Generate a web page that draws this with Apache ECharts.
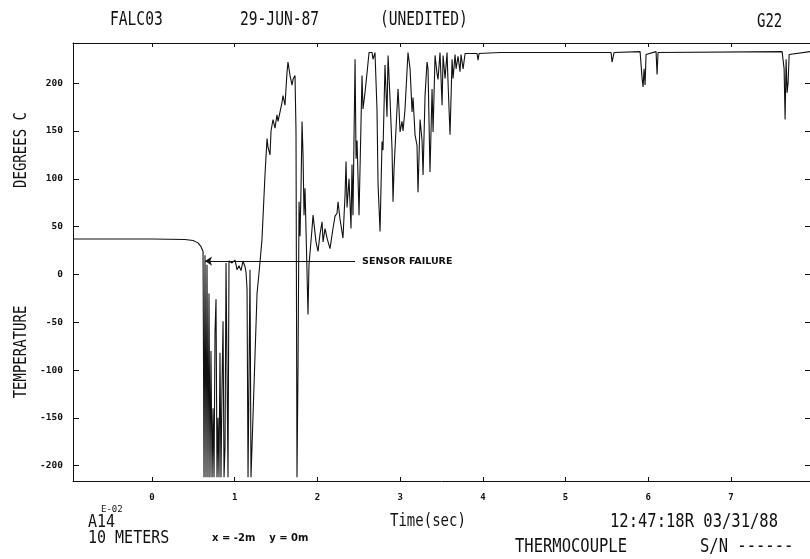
<!DOCTYPE html>
<html>
<head>
<meta charset="utf-8">
<title>FALC03 thermocouple A14</title>
<script src="https://cdn.jsdelivr.net/npm/echarts@6/dist/echarts.min.js"></script>
<style>
  html, body { margin: 0; padding: 0; background: #fff; }
  #falc-chart { width: 810px; height: 559px; }
</style>
</head>
<body>
<div id="falc-chart"></div>
<script>
// time (sec) and temperature (deg C)
const times = [
  // steady before release
  -0.955, 0, 0.399, 0.496, 0.556, 0.593, 0.617,
  // sensor failure spikes
  0.629, 0.641, 0.653, 0.665, 0.677, 0.689, 0.701, 0.713, 0.726, 0.738, 0.750, 0.762, 0.774,
  0.786, 0.798, 0.810, 0.822, 0.834, 0.846, 0.859, 0.871, 0.883, 0.895, 0.907, 0.919,
  // low plateau around 1 s
  0.931, 0.967, 1.004, 1.028, 1.052, 1.076, 1.100, 1.125, 1.137, 1.149, 1.161, 1.185,
  1.197, 1.221, 1.270, 1.306,
  // first rise
  1.330, 1.366, 1.391, 1.403, 1.427, 1.439, 1.451, 1.463, 1.487, 1.511, 1.524, 1.548,
  1.572, 1.584, 1.608, 1.632, 1.644, 1.669, 1.693, 1.705, 1.729, 1.741,
  // second drop
  1.753, 1.765, 1.778, 1.790, 1.802, 1.814, 1.826, 1.838, 1.850, 1.874, 1.886, 1.898,
  1.935, 1.947, 1.983, 2.007, 2.031, 2.056, 2.068, 2.092, 2.116, 2.152, 2.188, 2.213,
  2.237, 2.249, 2.273, 2.309,
  // noisy climb
  2.334, 2.346, 2.358, 2.382, 2.406, 2.418, 2.430, 2.455, 2.467, 2.479, 2.503, 2.527,
  2.539, 2.551, 2.575, 2.600, 2.624, 2.660, 2.672, 2.696, 2.720, 2.733, 2.757, 2.781,
  2.793, 2.817, 2.841, 2.854, 2.878, 2.902, 2.914, 2.926, 2.962, 2.975, 2.999,
  // 3 s onward
  3.023, 3.035, 3.059, 3.095, 3.120, 3.144, 3.156, 3.180, 3.204, 3.216, 3.241, 3.265,
  3.277, 3.301, 3.325, 3.337, 3.361, 3.386, 3.398, 3.422, 3.446, 3.458, 3.482, 3.507,
  3.519, 3.543, 3.567, 3.579, 3.603, 3.628, 3.640, 3.664, 3.676, 3.700, 3.724, 3.736,
  3.761, 3.785, 3.809,
  // saturated
  3.930, 3.942, 3.954, 4.208, 5.550, 5.562, 5.586, 5.901, 5.925, 5.937, 5.949, 5.961,
  5.973, 6.094, 6.106, 6.118, 7.618, 7.642, 7.654, 7.666, 7.678, 7.690, 7.703, 7.956,
];
const temps = [
  37, 37, 36.5, 35.5, 33, 29, 24,
  -212, 20, -212, 10, -212, -20, -212, -80, -212, -140, -212, -60, -26,
  -212, -150, -212, -82, -212, -120, -49, -212, -180, 12, 14, -212,
  14, 12, 15, 5, 9, 4, 14, 8, 2, -15, -212, 5,
  -212, -212, -20, 13,
  37, 104, 142, 133, 125, 150, 156, 162, 153, 167, 160, 170,
  180, 187, 177, 211, 222, 208, 198, 204, 208, 150,
  -212, -100, 76, 40, 92, 160, 125, 62, 90, 3, -42, 10,
  48, 62, 34, 24, 42, 55, 34, 48, 38, 27, 48, 61,
  64, 76, 58, 38,
  83, 118, 70, 100, 48, 115, 62, 225, 121, 140, 62, 159,
  208, 173, 190, 211, 232, 232, 225, 232, 173, 94, 45, 139,
  130, 219, 165, 229, 183, 131, 76, 110, 173, 194, 149,
  160, 150, 173, 232, 215, 170, 185, 146, 135, 86, 162, 140,
  104, 187, 222, 215, 107, 194, 149, 229, 210, 204, 232, 177,
  229, 205, 232, 201, 146, 225, 205, 230, 215, 228, 212, 230,
  215, 231, 230,
  231, 224, 231, 232, 232, 222, 232, 233, 205, 196, 215, 198,
  230, 233, 209, 232, 233, 215, 162, 225, 190, 200, 230, 233,
];
// tick labels
const xTicks = [0, 1, 2, 3, 4, 5, 6, 7];
const yTicks = [-200, -150, -100, -50, 0, 50, 100, 150, 200];
// sensor failure arrow (time from, time to, temperature)
const failureFrom = 2.455;
const failureTo = 0.641;
const failureLevel = 14;

const X_MIN = -0.955, X_MAX = 7.955;
const Y_MIN = -216, Y_MAX = 242;
const MONO = "'DejaVu Sans Mono', monospace";

let chartDom = document.getElementById("falc-chart");
let myChart = echarts.init(chartDom);

// 文字标注
const txt = (text, x, y, size, extra) =>
  Object.assign(
    {
      type: "text",
      x: x,
      y: y,
      silent: true,
      style: {
        text: text,
        fontFamily: MONO,
        fontSize: size,
        fill: "#111",
        verticalAlign: "middle",
      },
    },
    extra || {}
  );

const axisBase = {
  type: "value",
  axisLine: { show: true, onZero: false, lineStyle: { color: "#111", width: 1 } },
  splitLine: { show: false },
};

const option = {
  animation: false,
  backgroundColor: "#fff",
  grid: { left: 73, right: 0, top: 43, bottom: 78 },
  xAxis: [
    Object.assign({}, axisBase, {
      position: "bottom",
      min: X_MIN,
      max: X_MAX,
      axisTick: { inside: true, length: 4, customValues: xTicks, lineStyle: { color: "#111" } },
      axisLabel: {
        customValues: xTicks,
        margin: 12,
        color: "#111",
        fontFamily: MONO,
        fontWeight: "bold",
        fontSize: 9,
      },
    }),
    Object.assign({}, axisBase, {
      position: "top",
      min: X_MIN,
      max: X_MAX,
      axisTick: { inside: true, length: 4, customValues: xTicks, lineStyle: { color: "#111" } },
      axisLabel: { show: false },
    }),
  ],
  yAxis: [
    Object.assign({}, axisBase, {
      position: "left",
      min: Y_MIN,
      max: Y_MAX,
      axisTick: { inside: true, length: 6, customValues: yTicks, lineStyle: { color: "#111" } },
      axisLabel: {
        customValues: yTicks,
        margin: 10,
        color: "#111",
        fontFamily: MONO,
        fontWeight: "bold",
        fontSize: 9.5,
      },
    }),
    Object.assign({}, axisBase, {
      position: "right",
      min: Y_MIN,
      max: Y_MAX,
      axisTick: { inside: true, length: 5, customValues: yTicks, lineStyle: { color: "#111" } },
      axisLabel: { show: false },
    }),
  ],
  series: [
    {
      type: "line",
      data: times.map((t, i) => [t, temps[i]]),
      showSymbol: false,
      symbol: "none",
      lineStyle: { color: "#111", width: 1.1 },
      silent: true,
      markLine: {
        silent: true,
        symbol: ["none", "arrow"],
        symbolSize: 7,
        lineStyle: { color: "#111", width: 1, type: "solid" },
        label: {
          show: true,
          position: "start",
          distance: 7,
          formatter: "SENSOR FAILURE",
          color: "#111",
          fontFamily: "'DejaVu Sans', sans-serif",
          fontWeight: "bold",
          fontSize: 9.5,
        },
        data: [[{ coord: [failureFrom, failureLevel] }, { coord: [failureTo, failureLevel] }]],
      },
    },
  ],
  graphic: [
    txt("FALC03", 110, 20, 14.6, { scaleY: 1.35 }),
    txt("29-JUN-87", 240, 20, 14.6, { scaleY: 1.35 }),
    txt("(UNEDITED)", 380, 20, 14.6, { scaleY: 1.35 }),
    txt("G22", 757, 22, 14, { scaleY: 1.35 }),
    txt("DEGREES C", 22, 150, 14, {
      rotation: Math.PI / 2,
      scaleY: 1.2,
      style: { text: "DEGREES C", fontFamily: MONO, fontSize: 14, fill: "#111", align: "center", verticalAlign: "middle" },
    }),
    txt("TEMPERATURE", 22, 352, 14, {
      rotation: Math.PI / 2,
      scaleY: 1.2,
      style: { text: "TEMPERATURE", fontFamily: MONO, fontSize: 14, fill: "#111", align: "center", verticalAlign: "middle" },
    }),
    txt("A14", 88, 522, 15, { scaleY: 1.2 }),
    txt("E-02", 101, 510, 9),
    txt("10 METERS", 88, 538, 15, { scaleY: 1.2 }),
    {
      type: "text",
      x: 212,
      y: 538,
      silent: true,
      style: {
        text: "x = -2m    y = 0m",
        fontFamily: "'DejaVu Sans', sans-serif",
        fontWeight: "bold",
        fontSize: 10,
        fill: "#111",
        verticalAlign: "middle",
      },
    },
    txt("Time(sec)", 390, 522, 14, { scaleY: 1.2 }),
    txt("12:47:18R 03/31/88", 610, 522, 15.5, { scaleY: 1.2 }),
    txt("THERMOCOUPLE", 515, 547, 15.5, { scaleY: 1.2 }),
    txt("S/N ------", 700, 547, 15.5, { scaleY: 1.2 }),
  ],
};

option && myChart.setOption(option);
window.onresize = () => {
  myChart.resize();
};
</script>
</body>
</html>
